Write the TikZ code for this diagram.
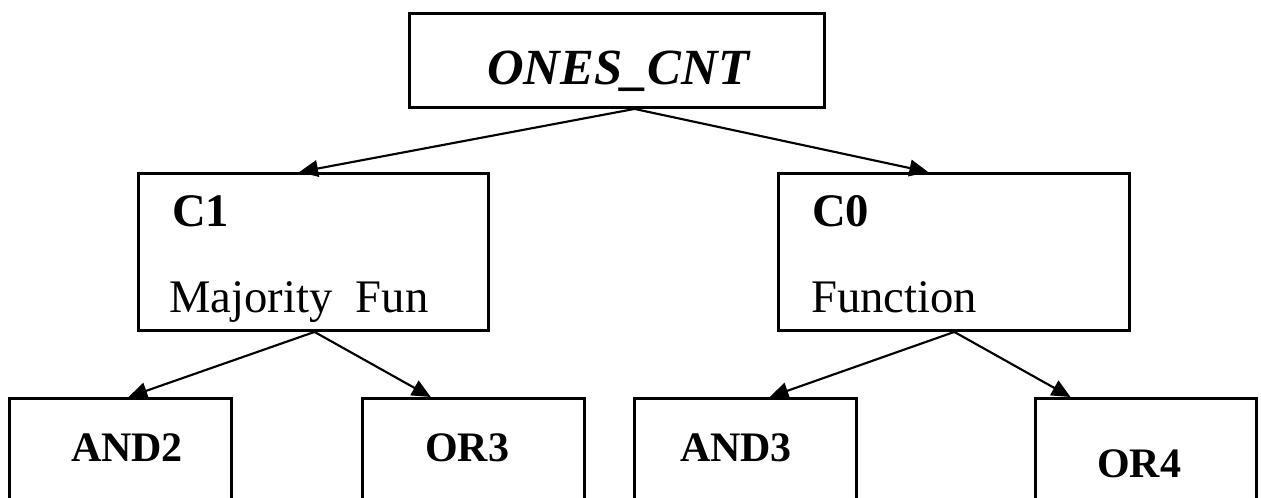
\documentclass[tikz,border=0pt]{standalone}
\usepackage{fontspec}
\setmainfont{Liberation Serif}
\usetikzlibrary{arrows.meta,calc}
\begin{document}
\begin{tikzpicture}[x=0.75pt,y=-0.75pt,
  box/.style={draw,line width=2.2pt,rectangle,inner sep=0pt,anchor=north west},
  lbl/.style={font=\fontsize{35}{40}\selectfont,inner sep=0pt},
  blbl/.style={font=\fontsize{35}{40}\selectfont\bfseries,inner sep=0pt},
  slbl/.style={font=\fontsize{31.5}{36}\selectfont\bfseries,inner sep=0pt,anchor=base},
  conn/.style={line width=1.6pt,-{Triangle[length=14pt,width=12.5pt]}}]
\useasboundingbox (0,0) rectangle (1261,498);
\clip (0,0) rectangle (1261,498);
\fill[white] (0,0) rectangle (1261,498);
% boxes
\node[box,minimum width=415*0.75pt,minimum height=94*0.75pt] (top) at (408,12) {};
\node[box,minimum width=350*0.75pt,minimum height=157*0.75pt] (c1) at (137,172) {};
\node[box,minimum width=351*0.75pt,minimum height=157*0.75pt] (c0) at (777,172) {};
\node[box,minimum width=222*0.75pt,minimum height=130*0.75pt] (and2) at (8,397) {};
\node[box,minimum width=222*0.75pt,minimum height=130*0.75pt] (or3) at (361,397) {};
\node[box,minimum width=222*0.75pt,minimum height=130*0.75pt] (and3) at (633,397) {};
\node[box,minimum width=221*0.75pt,minimum height=130*0.75pt] (or4) at (1034,397) {};
% texts
\node[font=\fontsize{38}{44}\selectfont\bfseries\itshape,inner sep=0pt,anchor=base west] (ttop) at (487,85) {ONES\_CNT};
\node[blbl,anchor=base west] (tc1) at (172,227) {C1};
\node[lbl,anchor=base west] (tc1b) at (169,313) {Majority\ \ Fun};
\node[blbl,anchor=base west] (tc0) at (812,227) {C0};
\node[lbl,anchor=base west] (tc0b) at (811,313) {Function};
\node[slbl] (tand2) at (127,462) {AND2};
\node[slbl] (tor3) at (467,462) {OR3};
\node[slbl] (tand3) at (736,462) {AND3};
\node[slbl] (tor4) at (1139,478) {OR4};
% connectors
\coordinate (s0) at ($(top.south west)!0.542!(top.south east)$);
\draw[conn] (s0) -- ($(c1.north west)!0.46!(c1.north east)$);
\draw[conn] (s0) -- ($(c0.north west)!0.427!(c0.north east)$);
\coordinate (s1) at ($(c1.south west)!0.503!(c1.south east)$);
\draw[conn] (s1) -- ($(and2.north west)!0.536!(and2.north east)$);
\draw[conn] (s1) -- ($(or3.north west)!0.31!(or3.north east)$);
\coordinate (s2) at ($(c0.south west)!0.501!(c0.south east)$);
\draw[conn] (s2) -- ($(and3.north west)!0.608!(and3.north east)$);
\draw[conn] (s2) -- ($(or4.north west)!0.163!(or4.north east)$);
\end{tikzpicture}
\end{document}
